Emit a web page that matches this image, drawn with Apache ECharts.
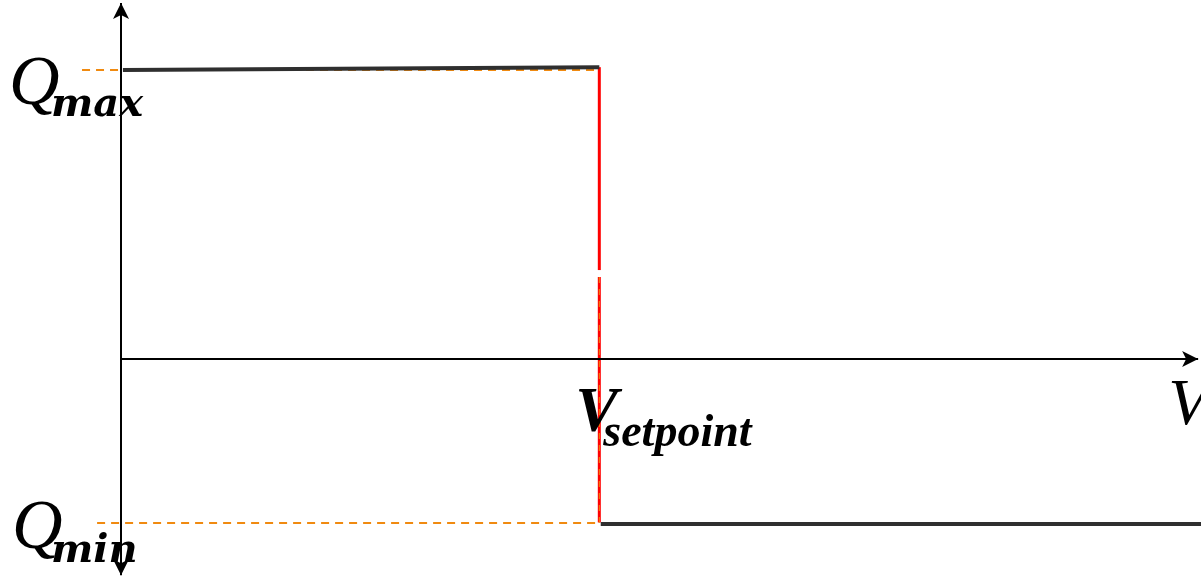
<!DOCTYPE html>
<html>
<head>
<meta charset="utf-8">
<script src="https://cdn.jsdelivr.net/npm/echarts@6/dist/echarts.min.js"></script>
<style>
html,body{margin:0;padding:0;background:#fff;}
#main{width:1201px;height:576px;}
</style>
</head>
<body>
<div id="main"></div>
<script>
// axis ranges (V on x, Q on y, setpoint = 1)
var xRange = [-0.253, 2.258];
var yRange = [-0.75, 1.24];

var qMax = 0.998;
var qMin = -0.567;
var vSet = 1;

// characteristic segments
var highLine = [[0.004, 0.998], [1, 1.008]];
var lowLine = [[1.003, -0.57], [2.258, -0.57]];
var redUpper = [[1, 1.008], [1, 0.307]];
var redLower = [[1, 0.283], [1, -0.565]];

// orange guides
var guideMax = [[-0.0815, qMax], [vSet, qMax]];
var guideMin = [[-0.05, qMin], [vSet, qMin]];
var guideV = [[vSet, 0.283], [vSet, qMin]];

// axis arrows
var axisX = [[0, 0], [2.252, 0]];
var axisY = [[0, -0.747], [0, 1.23]];

var times = "'Liberation Serif', serif";
var dejavu = "'DejaVu Serif', serif";

function seg(data, color, width, type, z) {
    return {
        type: 'line',
        data: data,
        showSymbol: false,
        silent: true,
        z: z,
        lineStyle: {color: color, width: width, type: type}
    };
}

// italic text label anchored at a data point
function txt(text, off, size, font, weight) {
    return {
        show: true, formatter: text,
        fontFamily: font, fontStyle: 'italic', fontWeight: weight, fontSize: size, color: '#000',
        position: 'inside', align: 'left', verticalAlign: 'middle', offset: off
    };
}

var myChart = echarts.init(document.getElementById('main'));
var option = {
    animation: false,
    grid: {left: 0, right: 0, top: 0, bottom: 0},
    xAxis: {type: 'value', min: xRange[0], max: xRange[1], show: false},
    yAxis: {type: 'value', min: yRange[0], max: yRange[1], show: false},
    series: [
        seg(guideMax, '#f08a10', 2, [8, 6], 1),
        seg(guideMin, '#f08a10', 2, [8, 6], 1),
        seg(redUpper, '#ff0000', 3, 'solid', 2),
        seg(redLower, '#ff0000', 3, 'solid', 2),
        seg(guideV, '#f08a10', 1, [6, 6], 3),
        seg(highLine, '#2f2f2f', 4, 'solid', 3),
        seg(lowLine, '#2f2f2f', 4, 'solid', 3),
        {
            type: 'line',
            data: [],
            silent: true,
            z: 4,
            markLine: {
                silent: true,
                symbol: ['none', 'arrow'],
                symbolSize: [12, 16],
                label: {show: false},
                lineStyle: {color: '#000', width: 2, type: 'solid'},
                data: [
                    [{coord: axisX[0], symbol: 'none'}, {coord: axisX[1]}],
                    [{coord: axisY[0], symbol: 'arrow'}, {coord: axisY[1]}]
                ]
            }
        },
        {
            type: 'scatter',
            symbolSize: 0,
            silent: true,
            z: 5,
            itemStyle: {opacity: 1},
            data: [
                {value: [0, qMax], label: txt('Q', [-112, 16], 70, times, 'normal')},
                {value: [0, qMax], label: txt('max', [-70, 36], 40, dejavu, 'bold')},
                {value: [0, qMin], label: txt('Q', [-109, 7], 70, times, 'normal')},
                {value: [0, qMin], label: txt('min', [-70, 29], 40, dejavu, 'bold')},
                {value: [vSet, 0], label: txt('V', [-24, 56], 64, times, 'bold')},
                {value: [vSet, 0], label: txt('setpoint', [4, 75], 46, times, 'bold')},
                {value: axisX[1], label: txt('V', [-30, 48], 66, times, 'normal')}
            ]
        }
    ]
};
myChart.setOption(option);
</script>
</body>
</html>
